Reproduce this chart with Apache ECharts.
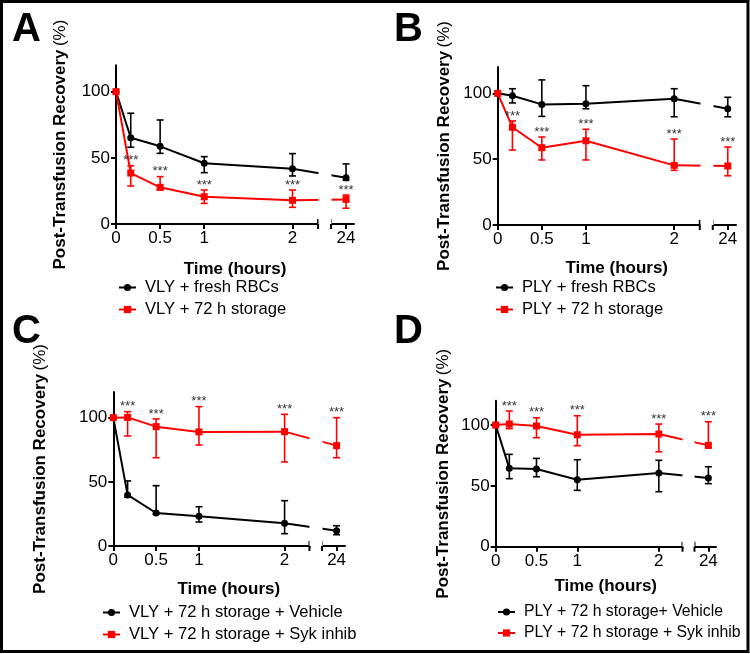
<!DOCTYPE html>
<html><head><meta charset="utf-8">
<script src="https://cdn.jsdelivr.net/npm/echarts@6/dist/echarts.min.js"></script>
<style>html,body{margin:0;padding:0;background:#fff}#c{width:750px;height:654px}</style>
</head><body><div id="c"></div>
<script>
// ---------- data ----------
const times = [0, 0.167, 0.5, 1, 2, 24];          // hours
const xTickValues = [0, 0.5, 1, 2, 24];
const xTickLabels = ['0', '0.5', '1', '2', '24'];
const yTickValues = [0, 50, 100];
const breakStart = 2.29, breakEnd = 23.83, xMax = 24.09; // broken time axis
const sigMarks = ['', '***', '***', '***', '***', '***'];

// Panel A
const aNames = ['VLY + fresh RBCs', 'VLY + 72 h storage'];
const aBlack   = [100, 65.2, 58.7, 45.9, 41.8, 35.0];
const aBlackHi = [null, 83.7, 78.6, 50.9, 53.2, 45.4];
const aBlackLo = [null, 58.0, 53.4, 38.8, 36.3, 33.0];
const aRed     = [100, 38.5, 27.7, 20.6, 17.9, 18.6];
const aRedHi   = [null, 44.0, 35.8, 25.7, 25.7, 21.9];
const aRedLo   = [null, 28.7, 25.7, 15.6, 12.6, 11.9];

// Panel B
const bNames = ['PLY + fresh RBCs', 'PLY + 72 h storage'];
const bBlack   = [100, 98.2, 91.6, 92.1, 95.9, 88.3];
const bBlackHi = [null, 103.5, 110.2, 105.8, 103.5, 97.0];
const bBlackLo = [null, 92.7, 82.5, 88.3, 82.2, 82.2];
const bRed     = [100, 74.2, 58.7, 64.0, 45.3, 44.8];
const bRedHi   = [null, 79.0, 66.8, 72.7, 65.3, 59.2];
const bRedLo   = [null, 56.9, 49.4, 49.4, 41.5, 37.4];

// Panel C
const cNames = ['VLY + 72 h storage + Vehicle', 'VLY + 72 h storage + Syk inhib'];
const cBlack   = [100, 39.8, 25.7, 23.1, 17.7, 11.9];
const cBlackHi = [null, 50.7, 47.0, 30.6, 35.3, 15.8];
const cBlackLo = [null, 38.0, 25.0, 18.7, 9.6, 8.8];
const cRed     = [100, 100.2, 93.0, 88.9, 89.1, 78.2];
const cRedHi   = [null, 104.7, 99.0, 108.6, 102.6, 100.0];
const cRedLo   = [null, 85.7, 68.8, 78.7, 65.5, 68.8];

// Panel D
const dNames = ['PLY + 72 h storage+ Vehicle', 'PLY + 72 h storage + Syk inhib'];
const dBlack   = [100, 64.4, 63.8, 55.0, 60.6, 56.5];
const dBlackHi = [null, 75.9, 72.6, 71.5, 71.0, 65.7];
const dBlackLo = [null, 55.9, 57.5, 46.3, 45.2, 51.8];
const dRed     = [100, 100.8, 99.2, 92.0, 92.6, 83.3];
const dRedHi   = [null, 111.5, 106.0, 107.6, 100.8, 102.7];
const dRedLo   = [null, 97.0, 89.6, 83.0, 78.0, 81.3];

// ---------- layout ----------
const FONT = '"Liberation Sans", Arial, Helvetica, sans-serif';
const BLACK = '#000', RED = '#ff0000';
const panels = [
  { letter: 'A', names: aNames, k: aBlack, kHi: aBlackHi, kLo: aBlackLo, r: aRed, rHi: aRedHi, rLo: aRedLo,
    grid: { left: 116, top: 65.2, width: 238, height: 158.8 }, yGap: 47, xGap: 37, leg: { left: 118, top: 279, fs: 16.6 }, lt: [12, 30] },
  { letter: 'B', names: bNames, k: bBlack, kHi: bBlackHi, kLo: bBlackLo, r: bRed, rHi: bRedHi, rLo: bRedLo,
    grid: { left: 497.7, top: 67, width: 238, height: 158 }, yGap: 45, xGap: 35, leg: { left: 495, top: 279, fs: 16.6 }, lt: [394, 30] },
  { letter: 'C', names: cNames, k: cBlack, kHi: cBlackHi, kLo: cBlackLo, r: cRed, rHi: cRedHi, rLo: cRedLo,
    grid: { left: 113.3, top: 392, width: 231, height: 154 }, yGap: 64, xGap: 35, leg: { left: 102, top: 604, fs: 16.6 }, lt: [12, 332] },
  { letter: 'D', names: dNames, k: dBlack, kHi: dBlackHi, kLo: dBlackLo, r: dRed, rHi: dRedHi, rLo: dRedLo,
    grid: { left: 495.7, top: 400.7, width: 220, height: 146 }, yGap: 44, xGap: 31, leg: { left: 497, top: 604, fs: 15.8 }, lt: [394, 332] }
];

function pairs(vals) { return times.map((t, i) => [t, vals[i]]); }
function errData(lo, hi) {
  const out = [];
  times.forEach((t, i) => { if (lo[i] != null && hi[i] != null) out.push([t, lo[i], hi[i]]); });
  return out;
}
function errRender(color) {
  return function (params, api) {
    const x = api.value(0);
    const pLo = api.coord([x, api.value(1)]);
    const pHi = api.coord([x, api.value(2)]);
    const w = 3.5;
    const st = { stroke: color, lineWidth: 1.6 };
    return { type: 'group', children: [
      { type: 'line', shape: { x1: pLo[0], y1: pLo[1], x2: pHi[0], y2: pHi[1] }, style: st },
      { type: 'line', shape: { x1: pLo[0] - w, y1: pLo[1], x2: pLo[0] + w, y2: pLo[1] }, style: st },
      { type: 'line', shape: { x1: pHi[0] - w, y1: pHi[1], x2: pHi[0] + w, y2: pHi[1] }, style: st }
    ] };
  };
}

const option = {
  animation: false,
  backgroundColor: '#fff',
  textStyle: { fontFamily: FONT },
  grid: [], xAxis: [], yAxis: [], series: [], legend: [],
  graphic: [
    { type: 'rect', shape: { x: 1.5, y: 1.5, width: 746.5, height: 650 }, style: { fill: 'none', stroke: '#000', lineWidth: 3 } }
  ]
};

panels.forEach((p, i) => {
  option.grid.push(Object.assign({ outerBoundsMode: 'none', containLabel: false }, p.grid));
  option.xAxis.push({
    type: 'value', gridIndex: i, min: 0, max: xMax,
    breaks: [{ start: breakStart, end: breakEnd, gap: 0.147 }],
    breakArea: { show: true, itemStyle: { color: '#fff', opacity: 1, borderWidth: 0, borderColor: 'rgba(0,0,0,0)' },
                 zigzagAmplitude: 0, zigzagZ: 100, expandOnClick: false },
    axisLine: { onZero: false, lineStyle: { color: BLACK, width: 2 } },
    axisTick: { show: true, length: 5, customValues: xTickValues, lineStyle: { color: BLACK, width: 2 } },
    axisLabel: { customValues: xTickValues, fontSize: 17, color: BLACK, margin: 6, fontFamily: FONT,
                 formatter: v => xTickLabels[xTickValues.indexOf(v)] },
    splitLine: { show: false },
    name: 'Time (hours)', nameLocation: 'middle', nameGap: p.xGap,
    nameTextStyle: { fontSize: 17, fontWeight: 'bold', color: BLACK, fontFamily: FONT }
  });
  option.yAxis.push({
    type: 'value', gridIndex: i, min: 0, max: 120,
    axisLine: { show: true, lineStyle: { color: BLACK, width: 2 } },
    axisTick: { show: true, length: 5, customValues: yTickValues, lineStyle: { color: BLACK, width: 2 } },
    axisLabel: { customValues: yTickValues, fontSize: 17, color: BLACK, margin: 6, fontFamily: FONT },
    splitLine: { show: false },
    name: '{b|Post-Transfusion Recovery} {n|(%)}', nameLocation: 'middle', nameGap: p.yGap, nameRotate: 90,
    nameTextStyle: { rich: {
      b: { fontSize: 17, fontWeight: 'bold', color: BLACK, fontFamily: FONT },
      n: { fontSize: 17, color: BLACK, fontFamily: FONT } } }
  });
  // error bars
  option.series.push({ type: 'custom', name: p.names[0] + ' SD', xAxisIndex: i, yAxisIndex: i, z: 2,
    renderItem: errRender(BLACK), data: errData(p.kLo, p.kHi), encode: { x: 0, y: [1, 2] } });
  option.series.push({ type: 'custom', name: p.names[1] + ' SD', xAxisIndex: i, yAxisIndex: i, z: 4,
    renderItem: errRender(RED), data: errData(p.rLo, p.rHi), encode: { x: 0, y: [1, 2] } });
  // lines
  option.series.push({ type: 'line', name: p.names[0], xAxisIndex: i, yAxisIndex: i, z: 3,
    data: pairs(p.k), symbol: 'circle', symbolSize: 7, showAllSymbol: true,
    lineStyle: { color: BLACK, width: 2 }, itemStyle: { color: BLACK } });
  option.series.push({ type: 'line', name: p.names[1], xAxisIndex: i, yAxisIndex: i, z: 5,
    data: pairs(p.r), symbol: 'rect', symbolSize: 7, showAllSymbol: true,
    lineStyle: { color: RED, width: 2 }, itemStyle: { color: RED } });
  // significance marks above red error bars
  option.series.push({ type: 'custom', name: 'sig' + i, xAxisIndex: i, yAxisIndex: i, z: 6,
    data: times.map((t, k) => [t, p.rHi[k] == null ? p.r[k] : p.rHi[k], k]).filter(d => sigMarks[d[2]]),
    encode: { x: 0, y: 1 },
    renderItem: (params, api) => {
      const c = api.coord([api.value(0), api.value(1)]);
      return { type: 'text', x: c[0], y: c[1] - 5,
        style: { text: sigMarks[api.value(2)], fill: '#333', font: '13px ' + FONT, align: 'center', verticalAlign: 'middle' } };
    } });
  // break caps on the time axis
  option.series.push({ type: 'custom', name: 'brk' + i, xAxisIndex: i, yAxisIndex: i, z: 20,
    data: [[breakStart, 0], [breakEnd, 0]], encode: { x: 0, y: 1 },
    renderItem: (params, api) => {
      const c = api.coord([api.value(0), 0]);
      return { type: 'line', shape: { x1: c[0], y1: c[1] - 5, x2: c[0], y2: c[1] + 5 }, style: { stroke: BLACK, lineWidth: 2 } };
    } });
  option.legend.push({
    data: p.names, orient: 'vertical', left: p.leg.left, top: p.leg.top,
    itemWidth: 17, itemHeight: 9, itemGap: 5, padding: 0,
    textStyle: { fontSize: p.leg.fs, color: BLACK, fontFamily: FONT, padding: [0, 0, 0, 4] },
    selectedMode: false
  });
  option.graphic.push({ type: 'text', x: p.lt[0], y: p.lt[1],
    style: { text: p.letter, font: 'bold 40px ' + FONT, fill: BLACK, align: 'left', verticalAlign: 'middle' } });
});

const chart = echarts.init(document.getElementById('c'), null, { renderer: 'canvas' });
chart.setOption(option);
</script></body></html>
